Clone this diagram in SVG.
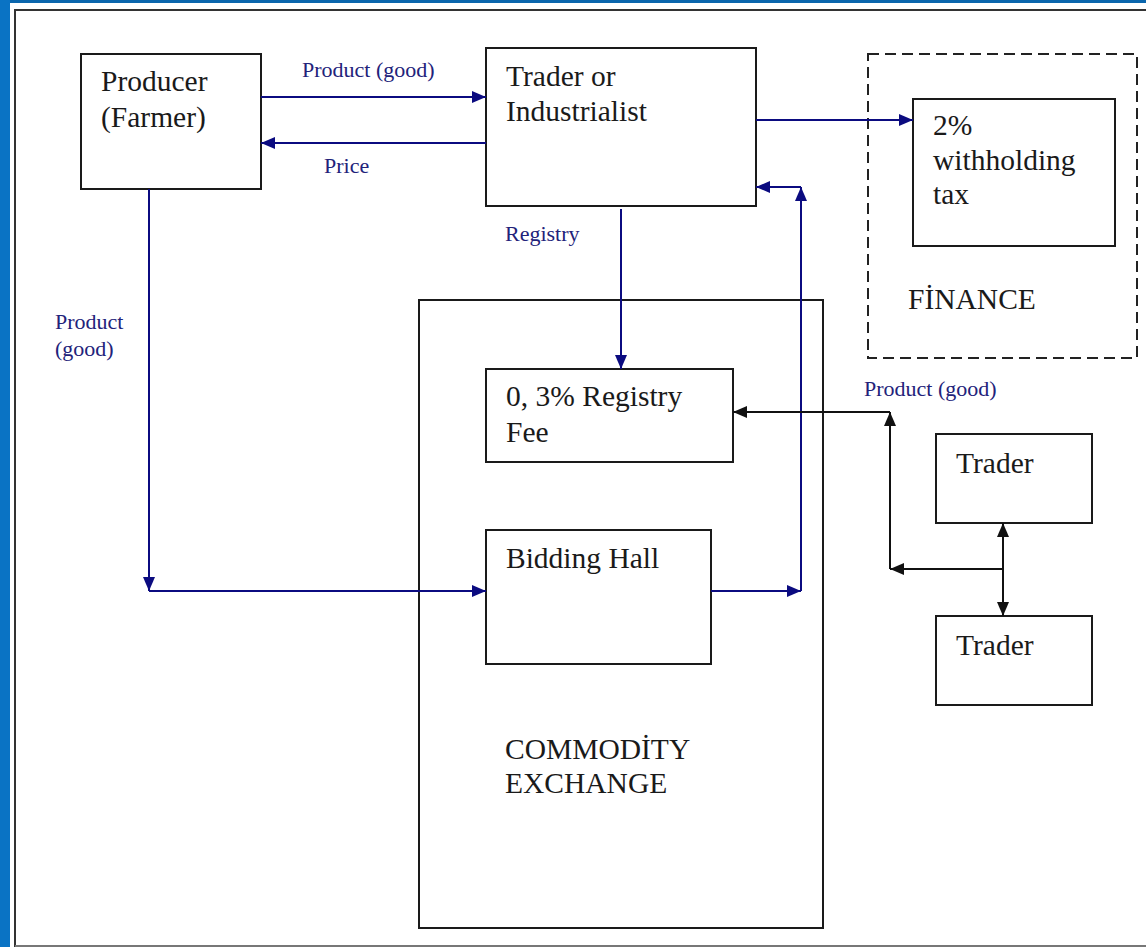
<svg xmlns="http://www.w3.org/2000/svg" width="1146" height="947" viewBox="0 0 1146 947">
<style>
.box{fill:#fff;stroke:#1a1a1a;stroke-width:2}
.dash{fill:none;stroke:#222;stroke-width:2;stroke-dasharray:11 6}
.t{font-family:"Liberation Serif","Times New Roman",serif;font-size:29.5px;fill:#1a1a1a}
.l{font-family:"Liberation Serif","Times New Roman",serif;font-size:22px;fill:#22227a}
.cb{fill:none;stroke:#0b0b80;stroke-width:2}
.ck{fill:none;stroke:#111;stroke-width:2}
</style>
<defs>
<marker id="ab" viewBox="0 0 14 12" refX="14" refY="6" markerWidth="14" markerHeight="12" markerUnits="userSpaceOnUse" orient="auto-start-reverse"><path d="M0,0 L14,6 L0,12 Z" fill="#0b0b80"/></marker>
<marker id="ak" viewBox="0 0 14 12" refX="14" refY="6" markerWidth="14" markerHeight="12" markerUnits="userSpaceOnUse" orient="auto-start-reverse"><path d="M0,0 L14,6 L0,12 Z" fill="#111"/></marker>
</defs>
<rect x="0" y="0" width="1146" height="947" fill="#fff"/>
<rect x="0" y="0" width="1146" height="3" fill="#0a66ad"/>
<rect x="0" y="0" width="10" height="947" fill="#0a73c4"/>
<path d="M15,947 V10 H1146" fill="none" stroke="#333" stroke-width="2"/>
<line x1="15" y1="946" x2="1146" y2="946" stroke="#777" stroke-width="2"/>

<g id="commodity-exchange">
<rect class="box" x="419" y="300" width="404" height="628"/>
<text class="t" x="505" y="759">COMMODİTY</text>
<text class="t" x="505" y="793">EXCHANGE</text>
</g>
<g id="finance">
<rect class="dash" x="868" y="54" width="269" height="304"/>
<text class="t" x="908" y="309">FİNANCE</text>
</g>
<g id="producer">
<rect class="box" x="81" y="54" width="180" height="135"/>
<text class="t" x="101" y="91">Producer</text>
<text class="t" x="101" y="127">(Farmer)</text>
</g>
<g id="trader-industrialist">
<rect class="box" x="486" y="48" width="270" height="158"/>
<text class="t" x="506" y="86">Trader or</text>
<text class="t" x="506" y="121">Industrialist</text>
</g>
<g id="withholding-tax">
<rect class="box" x="913" y="99" width="202" height="147"/>
<text class="t" x="933" y="135">2%</text>
<text class="t" x="933" y="170">withholding</text>
<text class="t" x="933" y="204">tax</text>
</g>
<g id="registry-fee">
<rect class="box" x="486" y="369" width="247" height="93"/>
<text class="t" x="506" y="406">0, 3% Registry</text>
<text class="t" x="506" y="442">Fee</text>
</g>
<g id="bidding-hall">
<rect class="box" x="486" y="530" width="225" height="134"/>
<text class="t" x="506" y="568">Bidding Hall</text>
</g>
<g id="trader-1">
<rect class="box" x="936" y="434" width="156" height="89"/>
<text class="t" x="956" y="473">Trader</text>
</g>
<g id="trader-2">
<rect class="box" x="936" y="616" width="156" height="89"/>
<text class="t" x="956" y="655">Trader</text>
</g>

<g id="connectors">
<line class="cb" x1="261" y1="97" x2="486" y2="97" marker-end="url(#ab)"/>
<line class="cb" x1="486" y1="143" x2="261" y2="143" marker-end="url(#ab)"/>
<line class="cb" x1="756" y1="120" x2="913" y2="120" marker-end="url(#ab)"/>
<line class="cb" x1="621" y1="209" x2="621" y2="369" marker-end="url(#ab)"/>
<line class="cb" x1="149" y1="189" x2="149" y2="591" marker-end="url(#ab)"/>
<line class="cb" x1="149" y1="591" x2="486" y2="591" marker-end="url(#ab)"/>
<line class="cb" x1="711" y1="591" x2="801" y2="591" marker-end="url(#ab)"/>
<line class="cb" x1="801" y1="591" x2="801" y2="187" marker-end="url(#ab)"/>
<line class="cb" x1="801" y1="187" x2="756" y2="187" marker-end="url(#ab)"/>
<line class="ck" x1="1003" y1="523" x2="1003" y2="616" marker-start="url(#ak)" marker-end="url(#ak)"/>
<line class="ck" x1="1003" y1="569" x2="890" y2="569" marker-end="url(#ak)"/>
<line class="ck" x1="890" y1="569" x2="890" y2="412" marker-end="url(#ak)"/>
<line class="ck" x1="890" y1="412" x2="733" y2="412" marker-end="url(#ak)"/>
<text class="l" x="302" y="77">Product (good)</text>
<text class="l" x="324" y="173">Price</text>
<text class="l" x="505" y="241">Registry</text>
<text class="l" x="55" y="329">Product</text>
<text class="l" x="55" y="356">(good)</text>
<text class="l" x="864" y="396">Product (good)</text>
</g>
</svg>
